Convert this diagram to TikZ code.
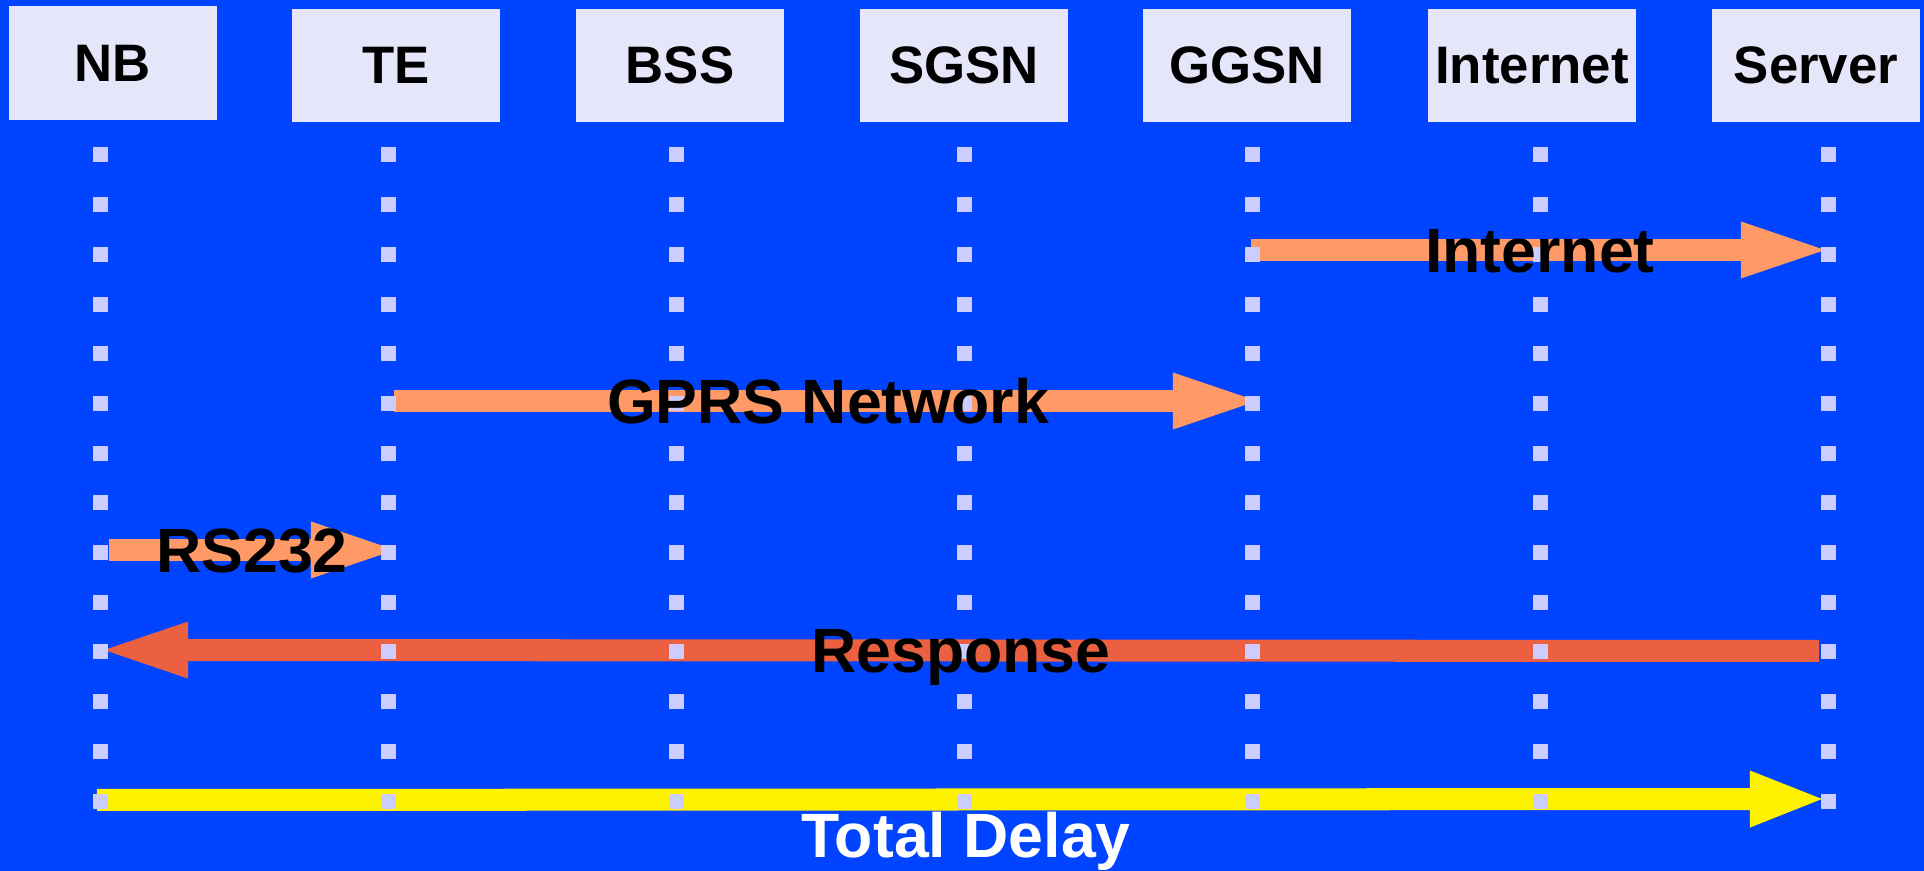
\documentclass[tikz,border=0pt]{standalone}
\usepackage{fontspec}
\setmainfont{Liberation Sans}
\usetikzlibrary{arrows.meta}
\definecolor{bgblue}{RGB}{0,68,255}
\definecolor{boxfill}{RGB}{230,230,250}
\definecolor{dotfill}{RGB}{204,204,255}
\definecolor{msgorange}{RGB}{255,153,102}
\definecolor{resporange}{RGB}{234,96,64}
\begin{document}
\begin{tikzpicture}
    [
        x=0.01cm, y=-0.01cm,
        entity/.style={rectangle, fill=boxfill, minimum width=2.08cm, minimum height=1.13cm, inner sep=0pt, font=\fontsize{15pt}{18pt}\selectfont\bfseries},
        message/.style={line width=0.22cm, -{Triangle[length=0.84cm, width=0.57cm, line width=0pt]}},
        msglabel/.style={anchor=base, inner sep=0pt, font=\fontsize{17.8pt}{21pt}\selectfont\bfseries},
    ]
    \fill [bgblue] (0,0) rectangle (1924,871);
    \node (nb) at (113,63) [entity] {NB};
    \node (te) at (396,65.5) [entity] {TE};
    \node (bss) at (680,65.5) [entity] {BSS};
    \node (sgsn) at (964,65.5) [entity] {SGSN};
    \node (ggsn) at (1247,65.5) [entity] {GGSN};
    \node (inet) at (1532,65.5) [entity] {Internet};
    \node (server) at (1816,65.5) [entity] {Server};
    \coordinate (ggsn-in) at (1251,250);
    \coordinate (server-in) at (1825,250);
    \coordinate (te-gprs) at (394,401);
    \coordinate (ggsn-gprs) at (1257,401);
    \coordinate (nb-rs) at (109,550);
    \coordinate (te-rs) at (395,550);
    \coordinate (server-resp) at (1819,651);
    \coordinate (nb-resp) at (104,650);
    \coordinate (nb-total) at (97,800);
    \coordinate (server-total) at (1822,799);
    \draw [message, msgorange] (ggsn-in) -- (server-in);
    \draw [message, msgorange] (te-gprs) -- (ggsn-gprs);
    \draw [message, msgorange] (nb-rs) -- (te-rs);
    \draw [message, resporange] (server-resp) -- (nb-resp);
    \draw [message, yellow, -{Triangle[length=0.72cm, width=0.57cm, line width=0pt]}] (nb-total) -- (server-total);
    \foreach \x in {100,388,...,1828}
        \foreach \k in {0,...,13}
            \fill [dotfill] ({\x-7.5},{147.5+49.7*\k}) rectangle +(15,15);
    \node (lbl-in) at (1540,273) [msglabel] {Internet};
    \node (lbl-gprs) at (828,424) [msglabel] {GPRS Network};
    \node (lbl-rs) at (252,573) [msglabel] {RS232};
    \node (lbl-resp) at (961,673) [msglabel] {Response};
    \node (lbl-total) at (966,858) [msglabel, white] {Total Delay};
\end{tikzpicture}
\end{document}
